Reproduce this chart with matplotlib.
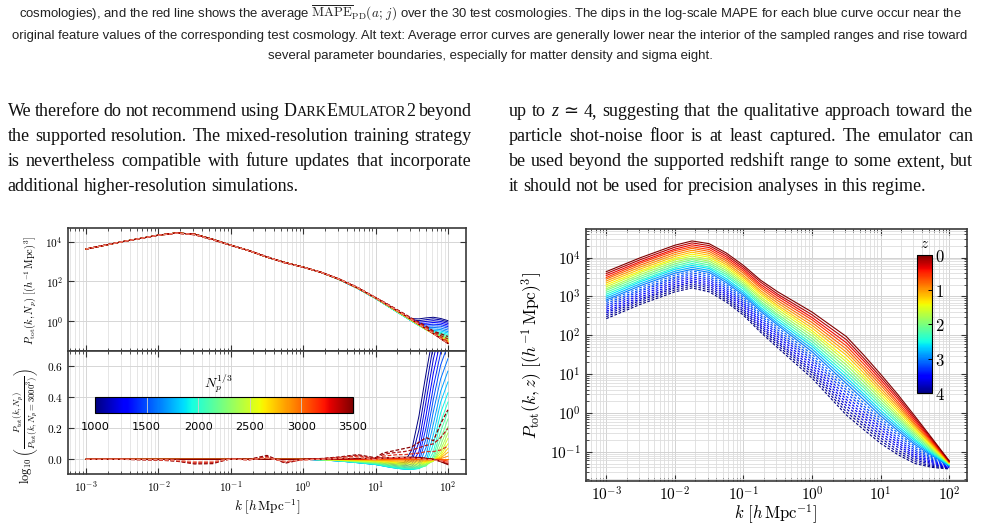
import numpy as np
import matplotlib
matplotlib.use("Agg")
import matplotlib.pyplot as plt
from matplotlib import colors, cm
from matplotlib.ticker import FixedLocator, NullLocator, LogLocator, FuncFormatter, NullFormatter

plt.rcParams['mathtext.fontset'] = 'cm'

W, H = 981, 531

# ---------------- right panel: log10 P_tot(k, z), one row per k knot ----------------
RIGHT_LOGK = [-3, -2.5, -2, -1.75, -1.5, -1.25, -1, -0.75, -0.5, 0, 0.5, 0.75, 1, 1.25, 1.5, 1.75, 2]
RIGHT_Z = [0.0, 0.2, 0.4, 0.6, 0.8, 1.0, 1.2, 1.4, 1.6, 1.8, 2.0, 2.2, 2.4, 2.6, 2.8, 3.0,
           3.1, 3.2, 3.3, 3.4, 3.5, 3.6, 3.7, 3.8, 3.9, 4.0]
Z_SUPPORTED_MAX = 3.0
RIGHT_LOGP_BY_K = [
    [3.64, 3.59, 3.54, 3.49, 3.45, 3.40, 3.35, 3.30, 3.25, 3.20, 3.16, 3.11, 3.06, 3.01, 2.96, 2.91, 2.87, 2.82, 2.77, 2.72, 2.67, 2.62, 2.58, 2.53, 2.48, 2.43],
    [4.00, 3.95, 3.90, 3.86, 3.81, 3.76, 3.71, 3.66, 3.62, 3.57, 3.52, 3.47, 3.42, 3.38, 3.33, 3.28, 3.23, 3.18, 3.14, 3.09, 3.04, 2.99, 2.94, 2.90, 2.85, 2.80],
    [4.32, 4.27, 4.22, 4.18, 4.13, 4.08, 4.03, 3.98, 3.94, 3.89, 3.84, 3.79, 3.74, 3.70, 3.65, 3.60, 3.55, 3.50, 3.46, 3.41, 3.36, 3.31, 3.26, 3.22, 3.17, 3.12],
    [4.43, 4.38, 4.33, 4.28, 4.24, 4.19, 4.14, 4.09, 4.04, 3.99, 3.95, 3.90, 3.85, 3.80, 3.75, 3.70, 3.66, 3.61, 3.56, 3.51, 3.46, 3.41, 3.37, 3.32, 3.27, 3.22],
    [4.36, 4.31, 4.26, 4.21, 4.16, 4.11, 4.06, 4.01, 3.96, 3.91, 3.86, 3.81, 3.76, 3.72, 3.67, 3.62, 3.57, 3.52, 3.47, 3.42, 3.37, 3.32, 3.27, 3.22, 3.17, 3.12],
    [4.12, 4.07, 4.02, 3.97, 3.92, 3.87, 3.82, 3.77, 3.72, 3.67, 3.62, 3.57, 3.52, 3.46, 3.41, 3.36, 3.31, 3.26, 3.21, 3.16, 3.11, 3.06, 3.01, 2.96, 2.91, 2.86],
    [3.80, 3.75, 3.70, 3.65, 3.60, 3.54, 3.49, 3.44, 3.39, 3.34, 3.29, 3.24, 3.19, 3.13, 3.08, 3.03, 2.98, 2.93, 2.88, 2.83, 2.78, 2.73, 2.67, 2.62, 2.57, 2.52],
    [3.42, 3.37, 3.31, 3.26, 3.21, 3.15, 3.10, 3.05, 2.99, 2.94, 2.88, 2.83, 2.78, 2.72, 2.67, 2.62, 2.56, 2.51, 2.46, 2.40, 2.35, 2.29, 2.24, 2.19, 2.13, 2.08],
    [3.12, 3.06, 3.01, 2.95, 2.89, 2.83, 2.77, 2.72, 2.66, 2.60, 2.54, 2.49, 2.43, 2.37, 2.31, 2.26, 2.20, 2.14, 2.08, 2.03, 1.97, 1.91, 1.85, 1.80, 1.74, 1.68],
    [2.60, 2.53, 2.46, 2.40, 2.33, 2.26, 2.19, 2.12, 2.06, 1.99, 1.92, 1.85, 1.78, 1.72, 1.65, 1.58, 1.51, 1.44, 1.38, 1.31, 1.24, 1.17, 1.10, 1.04, 0.97, 0.90],
    [1.97, 1.89, 1.81, 1.73, 1.65, 1.57, 1.49, 1.40, 1.32, 1.24, 1.16, 1.08, 1.00, 0.92, 0.84, 0.76, 0.68, 0.60, 0.52, 0.43, 0.35, 0.27, 0.19, 0.11, 0.03, -0.05],
    [1.50, 1.42, 1.35, 1.27, 1.19, 1.12, 1.04, 0.96, 0.89, 0.81, 0.73, 0.66, 0.58, 0.50, 0.43, 0.35, 0.27, 0.19, 0.12, 0.04, -0.04, -0.11, -0.19, -0.27, -0.34, -0.42],
    [1.00, 0.93, 0.86, 0.79, 0.72, 0.64, 0.57, 0.50, 0.43, 0.36, 0.29, 0.22, 0.15, 0.07, 0.00, -0.07, -0.14, -0.21, -0.28, -0.35, -0.42, -0.50, -0.57, -0.64, -0.71, -0.78],
    [0.48, 0.42, 0.36, 0.29, 0.23, 0.17, 0.11, 0.05, -0.02, -0.08, -0.14, -0.20, -0.26, -0.33, -0.39, -0.45, -0.51, -0.57, -0.64, -0.70, -0.76, -0.82, -0.88, -0.95, -1.01, -1.07],
    [-0.08, -0.13, -0.18, -0.23, -0.28, -0.32, -0.37, -0.42, -0.47, -0.52, -0.57, -0.62, -0.67, -0.71, -0.76, -0.81, -0.86, -0.91, -0.96, -1.01, -1.06, -1.11, -1.15, -1.20, -1.25, -1.30],
    [-0.65, -0.68, -0.71, -0.74, -0.77, -0.80, -0.83, -0.86, -0.89, -0.92, -0.95, -0.98, -1.01, -1.04, -1.07, -1.10, -1.13, -1.16, -1.19, -1.22, -1.25, -1.28, -1.31, -1.34, -1.37, -1.40],
    [-1.23, -1.24, -1.25, -1.26, -1.26, -1.27, -1.28, -1.29, -1.30, -1.31, -1.31, -1.32, -1.33, -1.34, -1.35, -1.36, -1.36, -1.37, -1.38, -1.39, -1.40, -1.41, -1.42, -1.42, -1.43, -1.44],
]

# ---------------- left panels: resolution test ----------------
LEFT_LOGK = [-3, -2.5, -2, -1.75, -1.5, -1.25, -1, -0.75, -0.5, -0.25,
             0, 0.25, 0.5, 0.75, 1.0, 1.1, 1.2, 1.3, 1.4, 1.5, 1.6, 1.7, 1.8, 1.9, 2.0]
# log10 P_tot(k, N_p = 3000^3)
LEFT_LOGP_REF = [3.63, 4.00, 4.33, 4.44, 4.38, 4.12, 3.82, 3.55, 3.22, 2.95,
                 2.72, 2.45, 2.10, 1.67, 1.17, 0.95, 0.73, 0.51, 0.29, 0.06, -0.17, -0.40, -0.63, -0.87, -1.10]
NP_CBRT = [1000, 1100, 1200, 1300, 1400, 1500, 1600, 1700, 1800, 1900, 2000, 2100, 2200,
           2300, 2400, 2500, 2600, 2700, 2800, 2900, 3000, 3100, 3200, 3300, 3400, 3500]
# log10 ratio to N_p = 3000^3 at k >= 1 (LEFT_LOGK from 0 on); zero below
RATIO_HIGHK = [
    [0, -0.002, -0.005, -0.010, -0.016, -0.020, -0.024, -0.025, -0.020, 0.06, 0.28, 0.56, 0.82, 1.00, 1.12],
    [0, -0.002, -0.006, -0.012, -0.019, -0.024, -0.029, -0.031, -0.030, 0.01, 0.19, 0.47, 0.74, 0.93, 1.05],
    [0, -0.003, -0.007, -0.014, -0.022, -0.028, -0.033, -0.037, -0.038, -0.010, 0.11, 0.38, 0.65, 0.85, 0.98],
    [0, -0.003, -0.008, -0.016, -0.025, -0.032, -0.038, -0.043, -0.045, -0.030, 0.05, 0.29, 0.56, 0.77, 0.90],
    [0, -0.003, -0.009, -0.018, -0.028, -0.035, -0.042, -0.048, -0.052, -0.045, 0.01, 0.21, 0.47, 0.69, 0.82],
    [0, -0.004, -0.010, -0.020, -0.031, -0.038, -0.046, -0.053, -0.058, -0.055, -0.02, 0.14, 0.39, 0.61, 0.74],
    [0, -0.004, -0.011, -0.021, -0.033, -0.041, -0.049, -0.056, -0.061, -0.062, -0.04, 0.08, 0.31, 0.52, 0.65],
    [0, -0.004, -0.011, -0.022, -0.034, -0.042, -0.051, -0.058, -0.063, -0.065, -0.052, 0.03, 0.23, 0.44, 0.57],
    [0, -0.004, -0.011, -0.022, -0.034, -0.043, -0.052, -0.059, -0.064, -0.066, -0.058, -0.01, 0.16, 0.37, 0.50],
    [0, -0.004, -0.011, -0.022, -0.033, -0.042, -0.051, -0.058, -0.063, -0.065, -0.060, -0.03, 0.10, 0.30, 0.43],
    [0, -0.003, -0.010, -0.020, -0.031, -0.040, -0.048, -0.055, -0.060, -0.062, -0.058, -0.04, 0.05, 0.24, 0.37],
    [0, -0.003, -0.009, -0.018, -0.028, -0.036, -0.044, -0.050, -0.055, -0.057, -0.054, -0.042, 0.02, 0.18, 0.31],
    [0, -0.003, -0.008, -0.016, -0.025, -0.032, -0.039, -0.045, -0.049, -0.051, -0.049, -0.040, 0.0, 0.13, 0.26],
    [0, -0.002, -0.007, -0.014, -0.022, -0.028, -0.034, -0.039, -0.043, -0.045, -0.043, -0.036, -0.010, 0.09, 0.21],
    [0, -0.002, -0.006, -0.012, -0.019, -0.024, -0.029, -0.033, -0.036, -0.038, -0.037, -0.031, -0.012, 0.06, 0.17],
    [0, -0.002, -0.005, -0.010, -0.016, -0.020, -0.024, -0.028, -0.030, -0.031, -0.030, -0.025, -0.010, 0.04, 0.135],
    [0, -0.001, -0.004, -0.008, -0.012, -0.016, -0.019, -0.022, -0.024, -0.025, -0.024, -0.020, -0.009, 0.025, 0.10],
    [0, -0.001, -0.003, -0.006, -0.009, -0.012, -0.014, -0.016, -0.018, -0.018, -0.017, -0.014, -0.007, 0.015, 0.07],
    [0, -0.001, -0.002, -0.004, -0.006, -0.008, -0.009, -0.011, -0.012, -0.012, -0.011, -0.009, -0.004, 0.008, 0.045],
    [0, 0, -0.001, -0.002, -0.003, -0.004, -0.005, -0.005, -0.006, -0.006, -0.005, -0.004, -0.002, 0.004, 0.02],
    [0, 0, 0, 0, 0, 0, 0, 0, 0, 0, 0, 0, 0, 0, 0],
    [0, 0, 0.001, 0.001, 0.002, 0.003, 0.003, 0.004, 0.004, 0.004, 0.003, 0.002, 0.0, -0.004, -0.010],
    [0, 0, 0.001, 0.002, 0.004, 0.005, 0.006, 0.007, 0.007, 0.007, 0.006, 0.004, 0.0, -0.008, -0.018],
    [0, 0.001, 0.002, 0.003, 0.005, 0.007, 0.008, 0.009, 0.010, 0.010, 0.008, 0.005, 0.0, -0.011, -0.025],
    [0, 0.001, 0.002, 0.004, 0.006, 0.008, 0.010, 0.011, 0.012, 0.012, 0.010, 0.006, 0.0, -0.014, -0.030],
    [0, 0.001, 0.003, 0.005, 0.007, 0.009, 0.011, 0.013, 0.014, 0.014, 0.012, 0.007, 0.0, -0.016, -0.035],
]
# simulation measurements (dashed), log10 ratio over the full LEFT_LOGK grid
SIM_RATIO = [
    [0, 0, -0.005, -0.012, -0.030, -0.028, 0.005, 0.0, 0.025, -0.025, 0.0, 0.005, 0.015, 0.030, 0.010,
     0.040, 0.050, 0.060, 0.070, 0.080, 0.110, 0.140, 0.120, 0.230, 0.320],
    [0, 0, -0.004, -0.010, -0.025, -0.022, 0.003, -0.004, 0.018, -0.020, -0.002, 0.004, 0.012, 0.025, 0.005,
     0.030, 0.040, 0.045, 0.050, 0.060, 0.075, 0.090, 0.100, 0.140, 0.200],
    [0, 0, -0.003, -0.008, -0.020, -0.018, 0.002, -0.003, 0.012, -0.016, -0.004, 0.002, 0.010, 0.020, 0.0,
     0.020, 0.025, 0.030, 0.030, 0.035, 0.040, 0.050, 0.050, 0.060, 0.085],
    [0, 0, -0.002, -0.006, -0.015, -0.013, 0.001, -0.002, 0.008, -0.012, -0.004, 0.0, 0.006, 0.012, -0.003,
     0.008, 0.010, 0.012, 0.010, 0.008, 0.005, 0.0, -0.005, -0.010, -0.020],
]
SIM_COLORS = ['#8b0000', '#b41414', '#dc3222', '#f08a78']

# ---------------- page text ----------------
CAPTION = [
    r"cosmologies), and the red line shows the average $\overline{\mathrm{MAPE}}_{\mathrm{PD}}(a;\,j)$ over the 30 test "
    r"cosmologies. The dips in the log-scale MAPE for each blue curve occur near the",
    "original feature values of the corresponding test cosmology. Alt text: Average error curves are generally "
    "lower near the interior of the sampled ranges and rise toward",
    "several parameter boundaries, especially for matter density and sigma eight.",
]
SC_NAME = [("D", 1, 'normal'), ("ARK", 0.78, 'normal'), ("E", 1, 'normal'),
           ("MULATOR", 0.78, 'normal'), ("2", 1, 'normal')]
LEFT_PARA = [
    "We therefore do not recommend using".split() + [SC_NAME, "beyond"],
    "the supported resolution. The mixed-resolution training strategy".split(),
    "is nevertheless compatible with future updates that incorporate".split(),
    "additional higher-resolution simulations.".split(),
]
RIGHT_PARA = [
    ["up", "to", [("z", 1, 'italic')], "\u2243", "4,"] +
    "suggesting that the qualitative approach toward the".split(),
    "particle shot-noise floor is at least captured.  The emulator can".split(),
    "be used beyond the supported redshift range to some extent, but".split(),
    "it should not be used for precision analyses in this regime.".split(),
]

SERIF = ['Liberation Serif', 'DejaVu Serif']
NARROW = ['Liberation Sans Narrow', 'Liberation Sans', 'DejaVu Sans']


def rect(x0, y0, x1, y1):
    return [x0 / W, 1 - y1 / H, (x1 - x0) / W, (y1 - y0) / H]


def fx(x):
    return x / W


def fy(y):
    return 1 - y / H


fig = plt.figure(figsize=(W / 100, H / 100), dpi=100)
fig.patch.set_facecolor('white')
renderer = fig.canvas.get_renderer()


def text_width(s, size, style='normal', family=SERIF):
    t = fig.text(0, 0, s, fontsize=size, style=style, family=family)
    w = t.get_window_extent(renderer).width
    t.remove()
    return w


def put_line(words, x0, x1, yb, size, justify=True):
    words = [w if isinstance(w, list) else [(w, 1, 'normal')] for w in words]
    widths = [[text_width(s, size * sc, st) for s, sc, st in w] for w in words]
    total = sum(sum(ws) for ws in widths)
    gap = (x1 - x0 - total) / (len(words) - 1) if justify else 0.25 * size * 100 / 72
    x = x0
    for w, ws in zip(words, widths):
        for (s, sc, st), pw in zip(w, ws):
            fig.text(fx(x), fy(yb), s, fontsize=size * sc, style=st, family=SERIF,
                     va='baseline', ha='left', color='#111111')
            x += pw
        x += gap


# caption (fit third line width)
cap_size = 9 * 447 / text_width(CAPTION[2], 9, family=NARROW)
for line, yb in zip(CAPTION, [18, 38.5, 59]):
    fig.text(fx(490), fy(yb), line, ha='center', va='baseline', fontsize=cap_size,
             family=NARROW, color='#222222')

# paragraphs (fit the last line of the left column)
par_size = 12 * 293 / text_width("additional higher-resolution simulations.", 12)
for i, (wl, wr) in enumerate(zip(LEFT_PARA, RIGHT_PARA)):
    yb = 116 + 25 * i
    last = i == len(LEFT_PARA) - 1
    put_line(wl, 7.5, 471.5, yb, par_size, justify=not last)
    put_line(wr, 508.5, 973, yb, par_size, justify=not last)


def log_fmt(v, pos):
    return r'$10^{%d}$' % int(round(np.log10(v)))


def style_axes(ax, lsize):
    ax.tick_params(which='both', direction='in', top=True, right=True, color='#333333',
                   labelcolor='black', labelsize=lsize)
    ax.tick_params(which='major', length=4, width=0.8)
    ax.tick_params(which='minor', length=2, width=0.6)
    for s in ax.spines.values():
        s.set_color('#3a3a3a')
        s.set_linewidth(1.2)
    ax.set_axisbelow(True)


def log_x(ax, lo, hi):
    ax.set_xscale('log')
    ax.set_xlim(10 ** lo, 10 ** hi)
    ax.xaxis.set_major_locator(FixedLocator([1e-3, 1e-2, 1e-1, 1e0, 1e1, 1e2]))
    ax.xaxis.set_minor_locator(LogLocator(base=10, subs=np.arange(2, 10), numticks=20))
    ax.xaxis.set_minor_formatter(NullFormatter())
    ax.xaxis.set_major_formatter(FuncFormatter(log_fmt))


# ---------------- left panels ----------------
ax_t = fig.add_axes(rect(68, 228, 466, 351))
ax_b = fig.add_axes(rect(68, 351, 466, 474))
norm_l = colors.Normalize(1000, 3500)
cmap_l = plt.get_cmap('jet')
k_l = 10 ** np.array(LEFT_LOGK)
base_l = np.array(LEFT_LOGP_REF)
n_low = int(np.sum(np.array(LEFT_LOGK) < 0))

for n, row in zip(NP_CBRT, RATIO_HIGHK):
    r = np.concatenate([np.zeros(n_low), row])
    c = cmap_l(norm_l(n))
    ax_t.plot(k_l, 10 ** (base_l + r), color=c, lw=0.7)
    ax_b.plot(k_l, r, color=c, lw=0.7)
for row, c in zip(SIM_RATIO, SIM_COLORS):
    r = np.array(row)
    ax_t.plot(k_l, 10 ** (base_l + r), color=c, lw=0.9, ls=(0, (3, 1.5)))
    ax_b.plot(k_l, r, color=c, lw=0.9, ls=(0, (3, 1.5)))

for ax in (ax_t, ax_b):
    style_axes(ax, 8.2)
    log_x(ax, -3.25, 2.25)
    ax.grid(which='major', color='#d6d6d6', lw=0.7)
    ax.grid(which='minor', axis='x', color='#e2e2e2', lw=0.6)
ax_t.tick_params(labelbottom=False)
ax_t.set_yscale('log')
ax_t.set_ylim(10 ** -1.51, 10 ** 4.69)
ax_t.yaxis.set_major_locator(FixedLocator([1e0, 1e2, 1e4]))
ax_t.yaxis.set_minor_locator(NullLocator())
ax_t.yaxis.set_major_formatter(FuncFormatter(log_fmt))
ax_b.set_ylim(-0.095, 0.70)
ax_b.yaxis.set_major_locator(FixedLocator([0.0, 0.2, 0.4, 0.6]))
ax_b.yaxis.set_major_formatter(FuncFormatter(lambda v, p: r'$%.1f$' % v))

fig.text(fx(30), fy(290), r'$P_{\rm tot}(k, N_p)\ [(h^{-1}\,{\rm Mpc})^3]$', rotation=90,
         ha='center', va='center', fontsize=7.5)
fig.text(fx(26), fy(426), r'$\log_{10}\left(\frac{P_{\rm tot}(k,N_p)}{P_{\rm tot}(k,N_p=3000^3)}\right)$',
         rotation=90, ha='center', va='center', fontsize=9)
fig.text(fx(267), fy(507), r'$k\ [h\,{\rm Mpc}^{-1}]$', ha='center', va='center', fontsize=9.5)

cax_l = fig.add_axes(rect(95, 397.3, 353, 413.3))
cb_l = fig.colorbar(cm.ScalarMappable(norm=norm_l, cmap=cmap_l), cax=cax_l, orientation='horizontal',
                    ticks=[1000, 1500, 2000, 2500, 3000, 3500])
cb_l.outline.set_linewidth(0.8)
cax_l.tick_params(direction='in', length=11.5, width=0.6, color='#d0d0d0', labelsize=8.2, pad=6)
fig.text(fx(218), fy(384), r'$N_p^{1/3}$', ha='center', va='center', fontsize=10)

# ---------------- right panel ----------------
ax_r = fig.add_axes(rect(585.7, 229.3, 967, 481))
norm_r = colors.Normalize(0, 4)
cmap_r = plt.get_cmap('jet_r')
k_r = 10 ** np.array(RIGHT_LOGK)
logp_r = np.array(RIGHT_LOGP_BY_K).T
for z, row in zip(RIGHT_Z[::-1], logp_r[::-1]):
    ls = '-' if z <= Z_SUPPORTED_MAX else (0, (2.5, 1.5))
    ax_r.plot(k_r, 10 ** row, color=cmap_r(norm_r(z)), lw=0.8, ls=ls)

style_axes(ax_r, 11)
log_x(ax_r, -3.3, 2.26)
ax_r.set_yscale('log')
ax_r.set_ylim(10 ** -1.75, 10 ** 4.73)
ax_r.yaxis.set_major_locator(FixedLocator([1e-1, 1e0, 1e1, 1e2, 1e3, 1e4]))
ax_r.yaxis.set_minor_locator(LogLocator(base=10, subs=np.arange(2, 10), numticks=20))
ax_r.yaxis.set_minor_formatter(NullFormatter())
ax_r.yaxis.set_major_formatter(FuncFormatter(log_fmt))
ax_r.grid(which='major', color='#d2d2d2', lw=0.7)
ax_r.grid(which='minor', color='#dddddd', lw=0.6)

fig.text(fx(532), fy(355), r'$P_{\rm tot}(k,z)\ [(h^{-1}\,{\rm Mpc})^3]$', rotation=90,
         ha='center', va='center', fontsize=12.5)
fig.text(fx(776), fy(514), r'$k\ [h\,{\rm Mpc}^{-1}]$', ha='center', va='center', fontsize=12)

cax_r = fig.add_axes(rect(917.3, 255, 932.3, 393.3))
cb_r = fig.colorbar(cm.ScalarMappable(norm=norm_r, cmap=cmap_r), cax=cax_r, ticks=[0, 1, 2, 3, 4])
cax_r.invert_yaxis()
cb_r.outline.set_linewidth(0.8)
cax_r.yaxis.set_major_formatter(FuncFormatter(lambda v, p: r'$%d$' % v))
cax_r.tick_params(direction='in', length=3, width=0.7, labelsize=12, pad=2)
fig.text(fx(925), fy(243), r'$z$', ha='center', va='center', fontsize=11)

fig.savefig('out.png', dpi=100, facecolor='white')
